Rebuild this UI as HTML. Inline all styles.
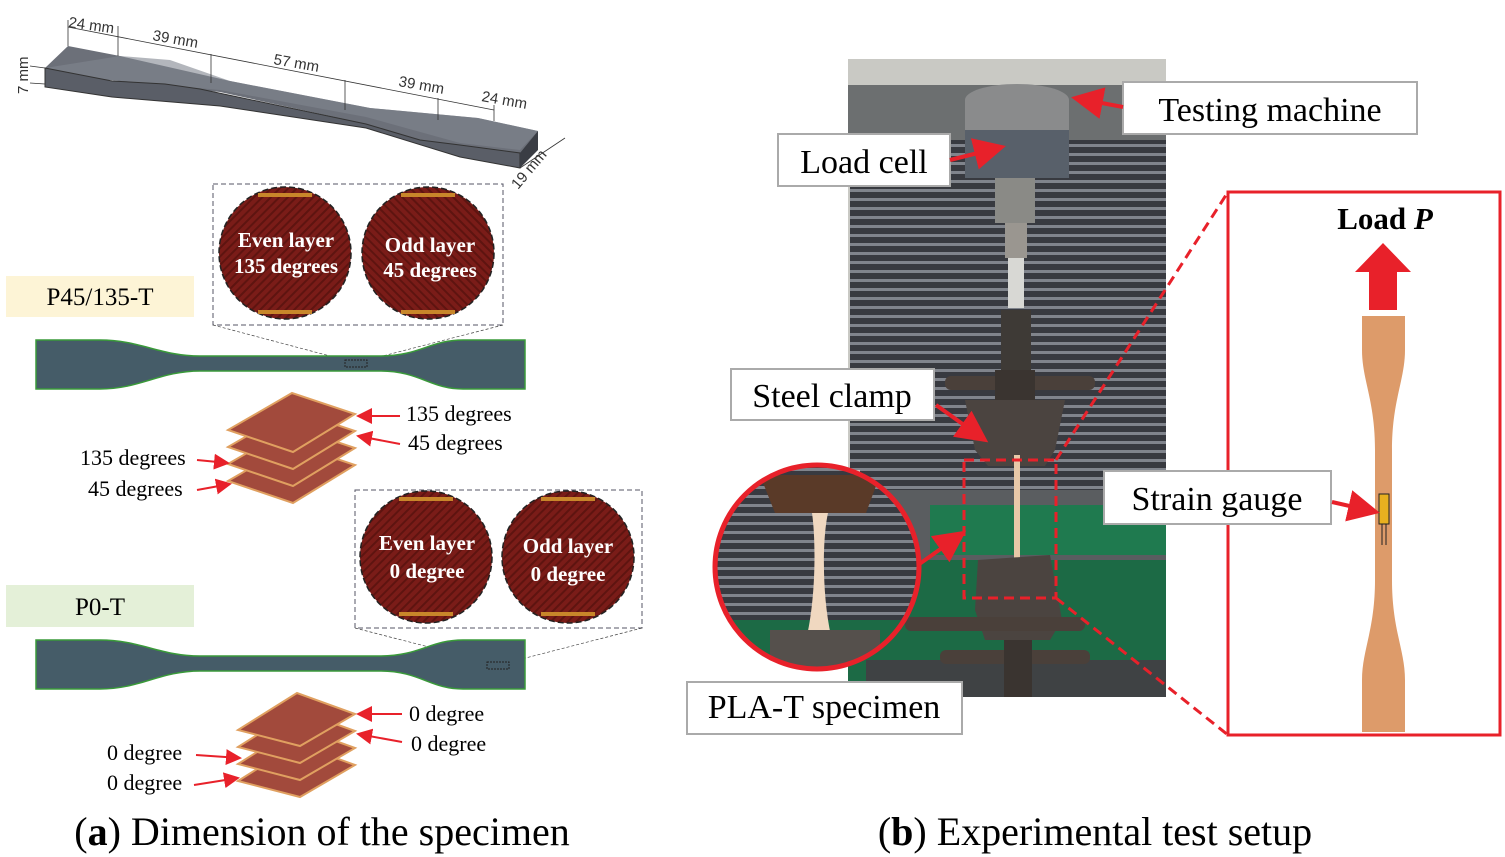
<!DOCTYPE html>
<html><head><meta charset="utf-8"><style>
html,body{margin:0;padding:0;background:#fff;}
svg{display:block;}
</style></head><body>
<svg width="1505" height="857" viewBox="0 0 1505 857" xmlns="http://www.w3.org/2000/svg" font-family="Liberation Serif, serif">
<defs>
<pattern id="hatch" width="6" height="6" patternUnits="userSpaceOnUse" patternTransform="rotate(45)">
<rect width="6" height="6" fill="#7a1c18"/><rect width="2" height="6" fill="#5e1410"/></pattern>
<pattern id="hatch2" width="6" height="6" patternUnits="userSpaceOnUse" patternTransform="rotate(-45)">
<rect width="6" height="6" fill="#7a1c18"/><rect width="2" height="6" fill="#5e1410"/></pattern>
<pattern id="blind" width="10" height="9" patternUnits="userSpaceOnUse">
<rect width="10" height="9" fill="#383a40"/><rect y="0" width="10" height="3" fill="#80848c"/></pattern>
<marker id="ar" markerWidth="8" markerHeight="8" refX="7" refY="4" orient="auto"><path d="M0,0L8,4L0,8z" fill="#e8212a"/></marker>
</defs>

<!-- 3D specimen -->
<polygon points="45,68 68,46 120,56 230,81 370,108 478,118 538,131 520,168 460,155 366,124 220,92 110,80 45,84" fill="#6c7079"/>
<polygon points="45,68 120,56 170,60 230,81 370,108 478,118 538,131 520,150 460,143 366,117 220,90 110,80 45,70" fill="#808590" opacity="0.6"/>
<polygon points="45,68 112,81 165,84 200,89 366,124 420,140 460,145 520,153 520,168 460,157 366,128 220,106 112,97 45,87" fill="#5a5e67" stroke="#333" stroke-width="1"/>
<polygon points="520,153 538,131 538,150 520,168" fill="#3a3d44"/>
<g stroke="#333" stroke-width="0.8" fill="none">
<line x1="68" y1="46" x2="68" y2="20"/><line x1="118" y1="56" x2="118" y2="26"/><line x1="211" y1="83" x2="211" y2="54"/><line x1="345" y1="110" x2="345" y2="80"/><line x1="438" y1="120" x2="438" y2="98"/><line x1="494" y1="121" x2="494" y2="105"/>
<line x1="68" y1="27" x2="494" y2="110"/><line x1="520" y1="168" x2="565" y2="138"/><line x1="30" y1="66" x2="45" y2="68"/><line x1="30" y1="83" x2="45" y2="84"/>
</g>
<g font-family="Liberation Sans, sans-serif" font-size="15" fill="#333">
<text x="68" y="27" transform="rotate(8 68 27)">24 mm</text>
<text x="152" y="40" transform="rotate(10 152 40)">39 mm</text>
<text x="273" y="64" transform="rotate(10 273 64)">57 mm</text>
<text x="398" y="86" transform="rotate(10 398 86)">39 mm</text>
<text x="481" y="101" transform="rotate(10 481 101)">24 mm</text>
<text x="28" y="94" transform="rotate(-90 28 94)">7 mm</text>
<text x="518" y="190" transform="rotate(-50 518 190)">19 mm</text>
</g>

<!-- dashed boxes -->
<rect x="213" y="184" width="290" height="141" fill="none" stroke="#556" stroke-dasharray="5,3"/>
<rect x="355" y="490" width="287" height="138" fill="none" stroke="#556" stroke-dasharray="5,3"/>
<line x1="213" y1="325" x2="345" y2="360" stroke="#444" stroke-dasharray="3,2" stroke-width="0.7"/>
<line x1="503" y1="325" x2="367" y2="360" stroke="#444" stroke-dasharray="3,2" stroke-width="0.7"/>
<line x1="355" y1="628" x2="487" y2="662" stroke="#444" stroke-dasharray="3,2" stroke-width="0.7"/>
<line x1="642" y1="628" x2="510" y2="662" stroke="#444" stroke-dasharray="3,2" stroke-width="0.7"/>

<!-- circles -->
<g stroke="#222" stroke-width="1.5" stroke-dasharray="6,3">
<circle cx="285" cy="253" r="66" fill="url(#hatch)"/>
<circle cx="428" cy="253" r="66" fill="url(#hatch2)"/>
<circle cx="426" cy="557" r="66" fill="url(#hatch)"/>
<circle cx="568" cy="557" r="66" fill="url(#hatch)"/>
</g>
<g fill="#c8862a"><rect x="258" y="193" width="54" height="4"/><rect x="258" y="310" width="54" height="4"/><rect x="401" y="193" width="54" height="4"/><rect x="401" y="310" width="54" height="4"/>
<rect x="399" y="497" width="54" height="4"/><rect x="399" y="612" width="54" height="4"/><rect x="541" y="497" width="54" height="4"/><rect x="541" y="612" width="54" height="4"/></g>
<g fill="#fff" font-weight="bold" font-size="21" text-anchor="middle">
<text x="286" y="247">Even layer</text><text x="286" y="273">135 degrees</text>
<text x="430" y="252">Odd layer</text><text x="430" y="277">45 degrees</text>
<text x="427" y="550">Even layer</text><text x="427" y="578">0 degree</text>
<text x="568" y="553">Odd layer</text><text x="568" y="581">0 degree</text>
</g>

<!-- labels -->
<rect x="6" y="276" width="188" height="41" fill="#fdf4d6"/>
<text x="100" y="305" font-size="25" text-anchor="middle">P45/135-T</text>
<rect x="6" y="585" width="188" height="42" fill="#e4f0d8"/>
<text x="100" y="615" font-size="25" text-anchor="middle">P0-T</text>

<!-- flat specimens -->
<path d="M36,340 L100,340 C140,340 160,356 200,356 L380,356 C420,356 430,340 463,340 L525,340 L525,389 L463,389 C430,389 420,371 380,371 L200,371 C160,371 140,389 100,389 L36,389 Z" fill="#455c68" stroke="#3a9a3a" stroke-width="1.5"/>
<path d="M36,640 L100,640 C140,640 160,656 200,656 L380,656 C420,656 430,640 463,640 L525,640 L525,689 L463,689 C430,689 420,671 380,671 L200,671 C160,671 140,689 100,689 L36,689 Z" fill="#455c68" stroke="#3a9a3a" stroke-width="1.5"/>
<rect x="345" y="360" width="22" height="7" fill="none" stroke="#222" stroke-dasharray="2,1"/>
<rect x="487" y="662" width="22" height="7" fill="none" stroke="#222" stroke-dasharray="2,1"/>

<!-- stacks -->
<g stroke="#e0a060" stroke-width="2" fill="#a24a3c">
<polygon points="228,481 292,444 355,465 293,503"/>
<polygon points="228,464 292,427 355,448 293,486"/>
<polygon points="228,447 292,410 355,431 293,469"/>
<polygon points="228,430 292,393 355,414 293,452"/>
<polygon points="238,781 297,744 355,765 300,797"/>
<polygon points="238,764 297,727 355,748 300,780"/>
<polygon points="238,747 297,710 355,731 300,763"/>
<polygon points="238,730 297,693 355,714 300,746"/>
</g>
<g stroke="#e8212a" stroke-width="2" marker-end="url(#ar)">
<line x1="400" y1="416" x2="358" y2="416"/><line x1="400" y1="444" x2="358" y2="436"/>
<line x1="197" y1="460" x2="228" y2="463"/><line x1="197" y1="490" x2="230" y2="484"/>
<line x1="402" y1="714" x2="358" y2="714"/><line x1="402" y1="742" x2="358" y2="734"/>
<line x1="196" y1="755" x2="240" y2="758"/><line x1="194" y1="785" x2="238" y2="778"/>
</g>
<g font-size="22">
<text x="406" y="421">135 degrees</text><text x="408" y="450">45 degrees</text>
<text x="80" y="465">135 degrees</text><text x="88" y="496">45 degrees</text>
<text x="409" y="721">0 degree</text><text x="411" y="751">0 degree</text>
<text x="107" y="760">0 degree</text><text x="107" y="790">0 degree</text>
</g>
<text x="322" y="845" font-size="40" text-anchor="middle">(<tspan font-weight="bold">a</tspan>) Dimension of the specimen</text>

<!-- photo -->
<rect x="848" y="59" width="318" height="638" fill="#c9c9c4"/>
<rect x="848" y="85" width="318" height="60" fill="#6c6f70"/>
<rect x="850" y="140" width="316" height="330" fill="url(#blind)"/>
<rect x="860" y="470" width="306" height="40" fill="url(#blind)"/>
<rect x="848" y="490" width="318" height="70" fill="#5a5d60"/>
<rect x="930" y="505" width="236" height="50" fill="#1f7a4f"/>
<rect x="848" y="560" width="318" height="137" fill="#1c6a45"/>
<rect x="866" y="660" width="300" height="37" fill="#3f4244"/>
<!-- machine -->
<ellipse cx="1017" cy="100" rx="52" ry="16" fill="#8a8b8c"/>
<rect x="965" y="100" width="104" height="32" fill="#8a8b8c"/>
<rect x="965" y="130" width="104" height="48" fill="#58606a"/>
<rect x="995" y="178" width="40" height="45" fill="#8a8a86"/>
<rect x="1005" y="223" width="22" height="35" fill="#9a9690"/>
<rect x="1008" y="258" width="16" height="50" fill="#d8d8d4"/>
<rect x="1001" y="310" width="30" height="60" fill="#3e3a36"/>
<rect x="945" y="376" width="150" height="14" rx="6" fill="#4a403a"/>
<rect x="995" y="370" width="40" height="30" fill="#3a3430"/>
<path d="M965,400 L1065,400 L1055,450 L1045,466 L988,466 L975,450 Z" fill="#4b4440"/>
<rect x="1014" y="455" width="6" height="130" fill="#e8c8a8"/>
<path d="M978,560 L1050,555 L1062,620 L1050,640 L985,640 L975,610 Z" fill="#4b4440"/>
<rect x="905" y="617" width="180" height="14" rx="6" fill="#4a403a"/>
<rect x="940" y="650" width="150" height="14" rx="6" fill="#4a403a"/>
<rect x="1004" y="640" width="28" height="57" fill="#3a3430"/>
<!-- dashed red rect -->
<rect x="964" y="460" width="92" height="138" fill="none" stroke="#e8212a" stroke-width="3" stroke-dasharray="10,6"/>
<line x1="1056" y1="460" x2="1228" y2="192" stroke="#e8212a" stroke-width="3" stroke-dasharray="10,6"/>
<line x1="1056" y1="598" x2="1228" y2="735" stroke="#e8212a" stroke-width="3" stroke-dasharray="10,6"/>
<!-- inset circle -->
<clipPath id="cc"><circle cx="817" cy="567" r="102"/></clipPath>
<g clip-path="url(#cc)">
<rect x="710" y="460" width="220" height="220" fill="url(#blind)"/>
<rect x="710" y="620" width="220" height="60" fill="#1c6a45"/>
<polygon points="760,475 880,475 866,513 775,513" fill="#5a3a28"/>
<path d="M812,513 L828,513 C822,540 822,600 832,640 L806,640 C816,600 816,540 812,513 Z" fill="#f0d8c0"/>
<rect x="770" y="630" width="110" height="50" fill="#55504c"/>
</g>
<circle cx="817" cy="567" r="102" fill="none" stroke="#e8212a" stroke-width="5"/>
<line x1="918" y1="565" x2="963" y2="533" stroke="#e8212a" stroke-width="4" marker-end="url(#ar)"/>

<!-- right box -->
<rect x="1228" y="192" width="272" height="543" fill="#fff" stroke="#e8212a" stroke-width="3"/>
<text x="1385" y="229" font-size="31" font-weight="bold" text-anchor="middle">Load <tspan font-style="italic">P</tspan></text>
<polygon points="1383,243 1411,272 1397,272 1397,310 1369,310 1369,272 1355,272" fill="#e8212a"/>
<path d="M1362,316 L1405,316 L1405,350 C1405,380 1392,400 1392,450 L1392,580 C1392,630 1405,650 1405,680 L1405,732 L1362,732 L1362,680 C1362,650 1375,630 1375,580 L1375,450 C1375,400 1362,380 1362,350 Z" fill="#dd9b6a"/>
<rect x="1379" y="494" width="10" height="30" fill="#e8b020" stroke="#222" stroke-width="1"/>
<line x1="1382" y1="524" x2="1382" y2="545" stroke="#222"/><line x1="1386" y1="524" x2="1386" y2="545" stroke="#222"/>

<!-- label boxes -->
<g fill="#fff" stroke="#aaa" stroke-width="2">
<rect x="1123" y="82" width="294" height="52"/>
<rect x="778" y="134" width="172" height="52"/>
<rect x="731" y="369" width="203" height="51"/>
<rect x="1104" y="471" width="227" height="53"/>
<rect x="687" y="682" width="275" height="52"/>
</g>
<g font-size="34" text-anchor="middle">
<text x="1270" y="121">Testing machine</text>
<text x="864" y="173">Load cell</text>
<text x="832" y="407">Steel clamp</text>
<text x="1217" y="510">Strain gauge</text>
<text x="824" y="718">PLA-T specimen</text>
</g>
<g stroke="#e8212a" stroke-width="4" marker-end="url(#ar)">
<line x1="1123" y1="107" x2="1075" y2="98"/>
<line x1="950" y1="160" x2="1002" y2="147"/>
<line x1="936" y1="405" x2="985" y2="440"/>
<line x1="1332" y1="502" x2="1376" y2="512"/>
</g>
<text x="1095" y="845" font-size="40" text-anchor="middle">(<tspan font-weight="bold">b</tspan>) Experimental test setup</text>
</svg>
</body></html>
